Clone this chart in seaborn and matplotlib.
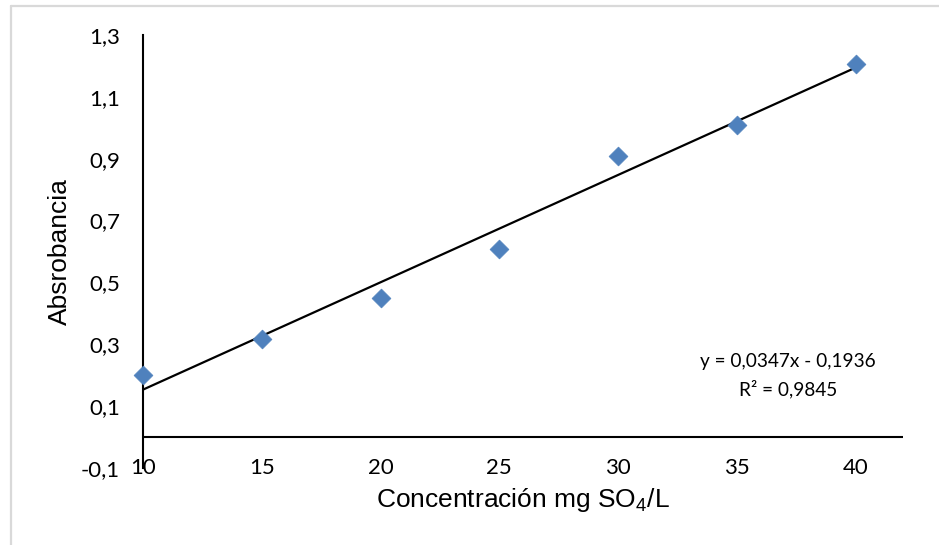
import numpy as np
import pandas as pd
import matplotlib
matplotlib.use("Agg")
import matplotlib.pyplot as plt
from matplotlib.lines import Line2D
import seaborn as sns

# Calibration data: sulphate concentration vs absorbance
concentracion = [10, 15, 20, 25, 30, 35, 40]
absorbancia = [0.200, 0.318, 0.450, 0.607, 0.910, 1.010, 1.205]

# Linear trendline coefficients
pendiente = 0.0347
intercepto = -0.1936
r2 = 0.9845

x_ticks = [10, 15, 20, 25, 30, 35, 40]
y_ticks = [-0.1, 0.1, 0.3, 0.5, 0.7, 0.9, 1.1, 1.3]

sns.set_theme(style="white")
plt.rcParams["font.family"] = ["Liberation Sans", "DejaVu Sans"]
plt.rcParams["mathtext.fontset"] = "custom"
plt.rcParams["mathtext.rm"] = "Liberation Sans"
plt.rcParams["mathtext.default"] = "regular"

fig = plt.figure(figsize=(9.39, 5.45), dpi=100)
fig.patch.set_facecolor("white")
ax = fig.add_axes([143 / 939, 1 - 468 / 545, 760 / 939, 433 / 545])

df = pd.DataFrame({"x": concentracion, "y": absorbancia})

# Trendline over the data range
x_fit = np.array([min(concentracion), max(concentracion)])
fit = pd.DataFrame({"x": x_fit, "y": pendiente * x_fit + intercepto})
sns.lineplot(data=fit, x="x", y="y", ax=ax, color="black", linewidth=1.6, zorder=2)

sns.scatterplot(data=df, x="x", y="y", ax=ax, marker="D", s=92,
                color="#4F81BD", edgecolor="#4F81BD", linewidth=0.5,
                zorder=3, clip_on=False)

ax.set_xlim(10, 42)
ax.set_ylim(-0.1, 1.3)

ax.set_xticks(x_ticks)
ax.set_xticklabels([str(v) for v in x_ticks])
ax.set_yticks(y_ticks)
ax.set_yticklabels([f"{v:.1f}".replace(".", ",") for v in y_ticks])

for lbl in ax.get_xticklabels() + ax.get_yticklabels():
    lbl.set_fontfamily(["Lato", "DejaVu Sans"])
    lbl.set_fontsize(16)
    lbl.set_color("black")

ax.tick_params(axis="x", length=0, pad=-7)
ax.tick_params(axis="y", length=0, pad=16.5)

for side in ["top", "right", "bottom"]:
    ax.spines[side].set_visible(False)
ax.spines["left"].set_color("black")
ax.spines["left"].set_linewidth(1.5)
ax.axhline(0, color="black", linewidth=1.5, zorder=1)

ax.set_xlabel("Concentración mg SO$_4$/L", fontsize=19, color="black", va="center")
ax.xaxis.set_label_coords(0.5, (468 - 500) / 433)
ax.set_ylabel("Absrobancia", fontsize=19, color="black", va="center")
ax.yaxis.set_label_coords((60 - 143) / 760, 0.5)

ax.text(788 / 939, 1 - 362 / 545,
        f"y = {pendiente:.4f}x - {abs(intercepto):.4f}".replace(".", ","),
        transform=fig.transFigure, ha="center", va="center",
        fontsize=13.7, family=["Lato", "DejaVu Sans"], color="black")
ax.text(788 / 939, 1 - 389 / 545,
        f"R² = {r2:.4f}".replace(".", ","),
        transform=fig.transFigure, ha="center", va="center",
        fontsize=13.7, family=["Lato", "DejaVu Sans"], color="black")

# Light chart-area border
fig.add_artist(Line2D([11 / 939, 1.0], [1 - 6 / 545, 1 - 6 / 545],
                      transform=fig.transFigure, color="#D9D9D9", linewidth=1.6))
fig.add_artist(Line2D([11 / 939, 11 / 939], [0.0, 1 - 6 / 545],
                      transform=fig.transFigure, color="#D9D9D9", linewidth=1.6))

fig.savefig("out.png", dpi=100, facecolor="white")
